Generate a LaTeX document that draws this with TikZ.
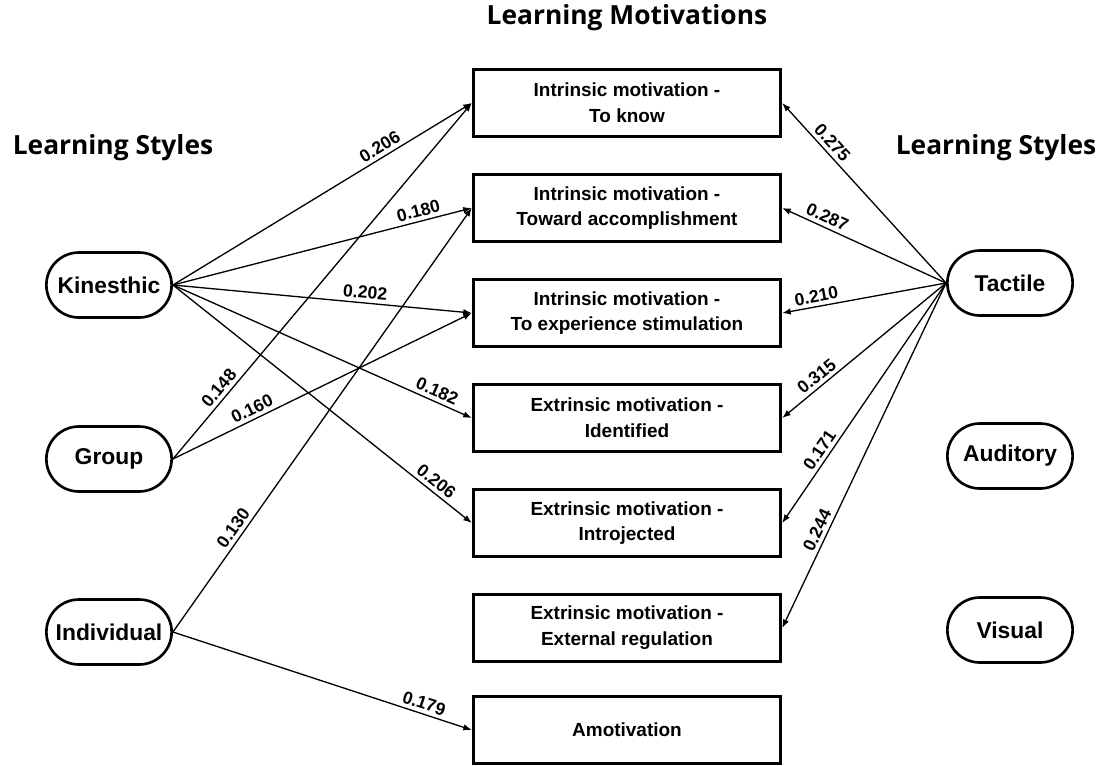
\documentclass[tikz,border=0pt]{standalone}
\usepackage{fontspec}
\setmainfont{Liberation Sans}
\newfontfamily\titlefont{Open Sans}
\usetikzlibrary{shapes.misc, arrows.meta, positioning}
\tikzset{
	motive/.style={rectangle, draw, line width=1.7pt, minimum width=6.15cm, minimum height=1.34cm, align=center, font=\bfseries\fontsize{10.8}{14.7}\selectfont},
	lstyle/.style={rounded rectangle, draw, line width=1.5pt, minimum width=2.74cm, minimum height=1.3cm, font=\bfseries\fontsize{13}{15}\selectfont},
	heading/.style={font=\titlefont\bfseries\fontsize{15}{18}\selectfont},
	line/.style={draw, line width=0.75pt, -{Latex[length=1.7mm, width=1.3mm]}},
	weight/.style={sloped, above, inner sep=2pt, font=\bfseries\fontsize{10}{12}\selectfont}
}

\begin{document}
\begin{tikzpicture}[x=0.02cm, y=-0.02cm]
	\useasboundingbox (0,0) rectangle (1103,765);
	
	% headings
	\node[heading] (title_motivations) at (627,18) {Learning Motivations};
	\node[heading] (title_styles_left) at (113,148) {Learning Styles};
	\node[heading] (title_styles_right) at (996,148) {Learning Styles};
	
	% motivation boxes (middle column)
	\node[motive] (to_know) at (627,103) {Intrinsic motivation -\\To know};
	\node[motive] (accomplishment) at (627,208) {Intrinsic motivation -\\Toward accomplishment};
	\node[motive] (stimulation) at (627,313) {Intrinsic motivation -\\To experience stimulation};
	\node[motive] (identified) at (627,418) {Extrinsic motivation -\\Identified};
	\node[motive] (introjected) at (627,523) {Extrinsic motivation -\\Introjected};
	\node[motive] (external) at (627,628) {Extrinsic motivation -\\External regulation};
	\node[motive] (amotivation) at (627,730) {Amotivation};
	
	% learning styles (left)
	\node[lstyle] (kinesthic) at (109,285) {Kinesthic};
	\node[lstyle] (group) at (109,459) {Group};
	\node[lstyle] (individual) at (109,632) {Individual};
	
	% learning styles (right)
	\node[lstyle] (tactile) at (1010,283) {Tactile};
	\node[lstyle] (auditory) at (1010,456) {Auditory};
	\node[lstyle] (visual) at (1010,630) {Visual};
	
	% paths from kinesthic
	\draw[line] (kinesthic.east) -- node[weight, pos=0.71] {0.206} (to_know.west);
	\draw[line] (kinesthic.east) -- node[weight, pos=0.83] {0.180} (accomplishment.west);
	\draw[line] (kinesthic.east) -- node[weight, pos=0.64] {0.202} (stimulation.west);
	\draw[line] (kinesthic.east) -- node[weight, pos=0.87] {0.182} (identified.west);
	\draw[line] (kinesthic.east) -- node[weight, pos=0.86] {0.206} (introjected.west);
	
	% paths from group and individual
	\draw[line] (group.east) -- node[weight, pos=0.18] {0.148} (to_know.west);
	\draw[line] (group.east) -- node[weight, pos=0.28] {0.160} (stimulation.west);
	\draw[line] (individual.east) -- node[weight, pos=0.23] {0.130} (accomplishment.west);
	\draw[line] (individual.east) -- node[weight, pos=0.83] {0.179} (amotivation.west);
	
	% paths from tactile
	\draw[line] (tactile.west) -- node[weight, pos=0.74] {0.275} (to_know.east);
	\draw[line] (tactile.west) -- node[weight, pos=0.75] {0.287} (accomplishment.east);
	\draw[line] (tactile.west) -- node[weight, pos=0.78] {0.210} (stimulation.east);
	\draw[line] (tactile.west) -- node[weight, pos=0.75] {0.315} (identified.east);
	\draw[line] (tactile.west) -- node[weight, pos=0.72] {0.171} (introjected.east);
	\draw[line] (tactile.west) -- node[weight, pos=0.73] {0.244} (external.east);
	
\end{tikzpicture}
\end{document}
